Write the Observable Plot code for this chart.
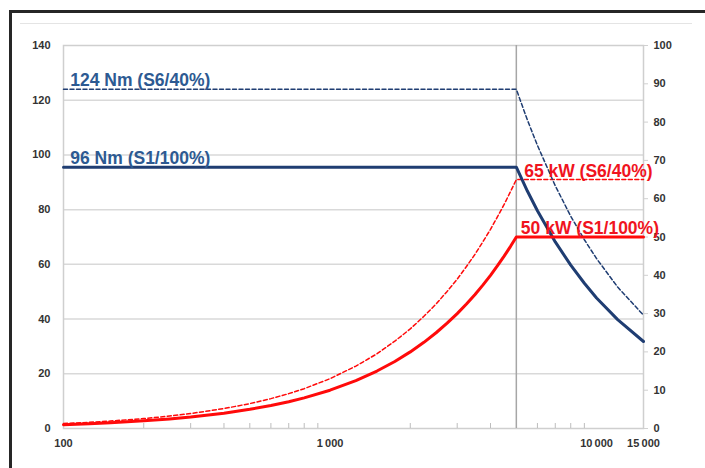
<!DOCTYPE html>
<html>
<head>
<meta charset="utf-8">
<script src="https://cdn.jsdelivr.net/npm/d3@7"></script>
<script src="https://cdn.jsdelivr.net/npm/@observablehq/plot@0.6"></script>
<style>
  html, body { margin: 0; padding: 0; background: #fff; }
  #wrap { position: relative; width: 705px; height: 468px; overflow: hidden; font-family: "Liberation Sans", Arial, sans-serif; }
  #wrap svg { position: absolute; left: 0; top: 0; }
  .frameTop { position: absolute; left: 9px; top: 10px; width: 696px; height: 3px; background: #262626; }
  .frameLeft { position: absolute; left: 9px; top: 10px; width: 3px; height: 458px; background: #262626; }
  .innerTop { position: absolute; left: 20px; top: 23px; width: 672px; height: 1px; background: #e4e4e4; }
</style>
</head>
<body>
<div id="wrap">
  <div class="innerTop"></div>
  <div class="frameTop"></div>
  <div class="frameLeft"></div>
</div>
<script>
// Speed (rpm)
const rpm = [100,125,150,200,250,300,400,500,600,700,800,1000,1250,1500,1750,2000,2250,2500,2750,3000,3250,3500,3750,4000,4250,4500,4750,5000,5500,6000,7000,8000,9000,10000,12000,15000];
// Torque (Nm), left axis
const torqueS1 = [95.5,95.5,95.5,95.5,95.5,95.5,95.5,95.5,95.5,95.5,95.5,95.5,95.5,95.5,95.5,95.5,95.5,95.5,95.5,95.5,95.5,95.5,95.5,95.5,95.5,95.5,95.5,95.5,86.8,79.6,68.2,59.7,53.1,47.7,39.8,31.8];
const torqueS6 = [124,124,124,124,124,124,124,124,124,124,124,124,124,124,124,124,124,124,124,124,124,124,124,124,124,124,124,124,112.8,103.5,88.7,77.6,69.0,62.1,51.7,41.4];
// Power (kW), right axis
const powerS1 = [1,1.25,1.5,2,2.5,3,4,5,6,7,8,10,12.5,15,17.5,20,22.5,25,27.5,30,32.5,35,37.5,40,42.5,45,47.5,50,50,50,50,50,50,50,50,50];
const powerS6 = [1.3,1.6,1.95,2.6,3.25,3.9,5.2,6.5,7.8,9.1,10.4,13,16.3,19.5,22.8,26,29.3,32.5,35.8,39,42.3,45.5,48.8,52,55.3,58.5,61.8,65,65,65,65,65,65,65,65,65];

const leftTicks = [0,20,40,60,80,100,120,140];
const rightTicks = [0,10,20,30,40,50,60,70,80,90,100];
const bottomTicks = [100,1000,10000,15000];
const minorTicks = [200,300,400,500,600,700,800,900,2000,3000,4000,6000,7000,8000,9000];
const cornerSpeed = [5000];

const labels = [
  {text: "124 Nm (S6/40%)", x: 106, y: 124, color: "#2d5a92"},
  {text: "96 Nm (S1/100%)", x: 106, y: 95.5, color: "#2d5a92"},
  {text: "65 kW (S6/40%)", x: 5350, y: 65 * 1.4, color: "#f0141e"},
  {text: "50 kW (S1/100%)", x: 5200, y: 50 * 1.4, color: "#f0141e"}
];

const KW = 1.4; // 140 Nm span <-> 100 kW span
const fmt = d => d3.format(",")(d).replace(/,/g, "\u2009");
const rows = rpm.map((r, i) => ({r, t1: torqueS1[i], t6: torqueS6[i], p1: powerS1[i] * KW, p6: powerS6[i] * KW}));

const blue = "#1f3d72";
const red = "#ff0a0a";

const chart = Plot.plot({
  width: 705,
  height: 468,
  marginLeft: 63,
  marginRight: 62,
  marginTop: 45,
  marginBottom: 40,
  style: {fontFamily: "'Liberation Sans', Arial, sans-serif", background: "transparent"},
  x: {type: "log", domain: [100, 15000]},
  y: {domain: [0, 140]},
  marks: [
    Plot.gridY(leftTicks.filter(d => d > 0 && d < 140), {stroke: "#d9d9d9", strokeOpacity: 1, strokeWidth: 1.5}),
    Plot.frame({stroke: "#cfcfcf", strokeWidth: 1.5}),
    Plot.ruleX(cornerSpeed, {stroke: "#a6a6a6", strokeWidth: 1.5}),
    Plot.axisY(leftTicks, {anchor: "left", tickSize: 0, tickPadding: 13, fontSize: 11, fontWeight: "bold", fill: "#333", label: null}),
    Plot.axisY(rightTicks.map(d => d * KW), {anchor: "right", tickSize: 4, stroke: "#d0d0d0", tickPadding: 6, tickFormat: d => Math.round(d / KW), fontSize: 11, fontWeight: "bold", fill: "#333", label: null}),
    Plot.axisX(bottomTicks, {anchor: "bottom", tickSize: 0, tickPadding: 11, tickFormat: fmt, fontSize: 11, fontWeight: "bold", fill: "#333", label: null}),
    Plot.axisX(minorTicks, {anchor: "bottom", tickSize: -5, stroke: "#bdbdbd", text: null, label: null}),
    Plot.axisX(cornerSpeed, {anchor: "top", tickSize: 0, tickPadding: 5, tickFormat: fmt, fontSize: 11, fontWeight: "bold", fill: "#333", label: null}),
    Plot.line(rows, {x: "r", y: "p6", stroke: red, strokeWidth: 1.5, strokeDasharray: "4,2.5"}),
    Plot.line(rows, {x: "r", y: "t6", stroke: blue, strokeWidth: 1.5, strokeDasharray: "4,2.5"}),
    Plot.line(rows, {x: "r", y: "t1", stroke: blue, strokeWidth: 3}),
    Plot.line(rows, {x: "r", y: "p1", stroke: red, strokeWidth: 3}),
    Plot.text(labels, {x: "x", y: "y", text: "text", fill: "color", textAnchor: "start", lineAnchor: "bottom", dy: -3, fontSize: 17.5, fontWeight: "bold"})
  ]
});
document.getElementById("wrap").prepend(chart);
</script>
</body>
</html>
